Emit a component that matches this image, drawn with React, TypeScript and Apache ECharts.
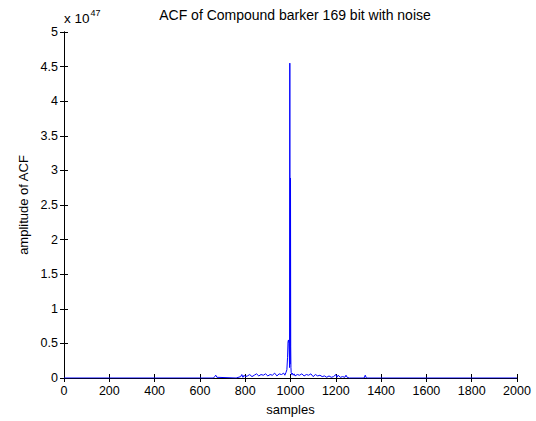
import React, { useEffect, useRef } from "react";
import * as echarts from "echarts";

const sampleIdx: number[] = [
  0, 660, 665, 670, 675, 760, 780, 785, 790, 795, 800, 810, 820, 830, 840, 850, 860, 870, 880, 890,
  900, 910, 920, 930, 940, 950, 960, 970, 975, 980, 984, 987, 989, 991, 993, 995, 996, 997, 998,
  999, 1000, 1001, 1002, 1003, 1005, 1008, 1012, 1016, 1020, 1030, 1040, 1050, 1060, 1070, 1080,
  1090, 1100, 1110, 1120, 1130, 1140, 1150, 1160, 1170, 1180, 1190, 1200, 1205, 1210, 1220, 1230,
  1240, 1245, 1250, 1260, 1325, 1330, 1335, 1400, 2000,
];
const acfValues: number[] = [
  0, 0, 0.02, 0.04, 0.01, 0, 0.02, 0.05, 0.01, 0.04, 0.02, 0.03, 0.05, 0.02, 0.04, 0.06, 0.03, 0.05,
  0.04, 0.06, 0.03, 0.05, 0.04, 0.07, 0.03, 0.06, 0.05, 0.07, 0.04, 0.08, 0.12, 0.3, 0.52, 0.55,
  0.5, 0.3, 0.15, 4.55, 0.2, 0.55, 2.89, 0.45, 0.15, 0.08, 0.05, 0.07, 0.04, 0.06, 0.03, 0.05, 0.04,
  0.06, 0.03, 0.05, 0.04, 0.06, 0.02, 0.05, 0.03, 0.04, 0.02, 0.03, 0.01, 0.03, 0.01, 0.02, 0.05,
  0.01, 0.04, 0.01, 0.02, 0.01, 0.04, 0.01, 0, 0, 0.04, 0, 0, 0,
];
const xTicks = { min: 0, max: 2000, interval: 200 };
const yTicks = { min: 0, max: 5, interval: 0.5 };

export default function App() {
  const ref = useRef<HTMLDivElement>(null);
  useEffect(() => {
    if (!ref.current) return;
    const chart = echarts.init(ref.current, null, { renderer: "svg" });
    const data = sampleIdx.map((x, i) => [x, acfValues[i]]);
    const font = "Liberation Sans, Arial, sans-serif";
    const axisLine = { show: true, lineStyle: { color: "#000", width: 1 } };
    const tick = { show: true, inside: true, length: 4, lineStyle: { color: "#000" } };
    chart.setOption({
      animation: false,
      backgroundColor: "#fff",
      textStyle: { fontFamily: font },
      title: {
        text: "ACF of Compound barker 169 bit with noise",
        left: 290,
        textAlign: "center",
        top: 3,
        textStyle: { fontSize: 14, fontWeight: "normal", color: "#000", fontFamily: font },
      },
      grid: { left: 64, right: 19, top: 32, bottom: 38 },
      xAxis: [
        {
          type: "value",
          ...xTicks,
          position: "bottom",
          name: "samples",
          nameLocation: "middle",
          nameGap: 25,
          nameTextStyle: { fontSize: 13, color: "#000", fontFamily: font },
          axisLine,
          axisTick: tick,
          axisLabel: { fontSize: 12.5, color: "#000", margin: 6, fontFamily: font, formatter: (v: number) => String(v) },
          splitLine: { show: false },
        },
        {
          type: "value",
          ...xTicks,
          position: "top",
          axisLine,
          axisTick: tick,
          axisLabel: { show: false },
          splitLine: { show: false },
        },
      ],
      yAxis: [
        {
          type: "value",
          ...yTicks,
          position: "left",
          name: "amplitude of ACF",
          nameLocation: "middle",
          nameGap: 32,
          nameRotate: 90,
          nameTextStyle: { fontSize: 13, color: "#000", fontFamily: font },
          axisLine,
          axisTick: tick,
          axisLabel: { fontSize: 12.5, color: "#000", margin: 6, fontFamily: font, formatter: (v: number) => String(v) },
          splitLine: { show: false },
        },
        {
          type: "value",
          ...yTicks,
          position: "right",
          axisLine,
          axisTick: tick,
          axisLabel: { show: false },
          splitLine: { show: false },
        },
      ],
      graphic: [
        {
          type: "text",
          left: 64,
          top: 8,
          style: {
            text: "{b|x 10}{s|47}",
            rich: {
              b: { fontSize: 13.5, fill: "#000", fontFamily: font, verticalAlign: "bottom", lineHeight: 17 },
              s: { fontSize: 9, fill: "#000", fontFamily: font, verticalAlign: "top", lineHeight: 17, padding: [0, 0, 8, 1] },
            },
          },
        },
      ],
      series: [
        {
          type: "line",
          data,
          showSymbol: false,
          symbol: "none",
          lineStyle: { color: "#0000ff", width: 1 },
          itemStyle: { color: "#0000ff" },
        },
      ],
    });
    return () => chart.dispose();
  }, []);
  return <div ref={ref} style={{ position: "fixed", left: 0, top: 0, width: 536, height: 421 }} />;
}
